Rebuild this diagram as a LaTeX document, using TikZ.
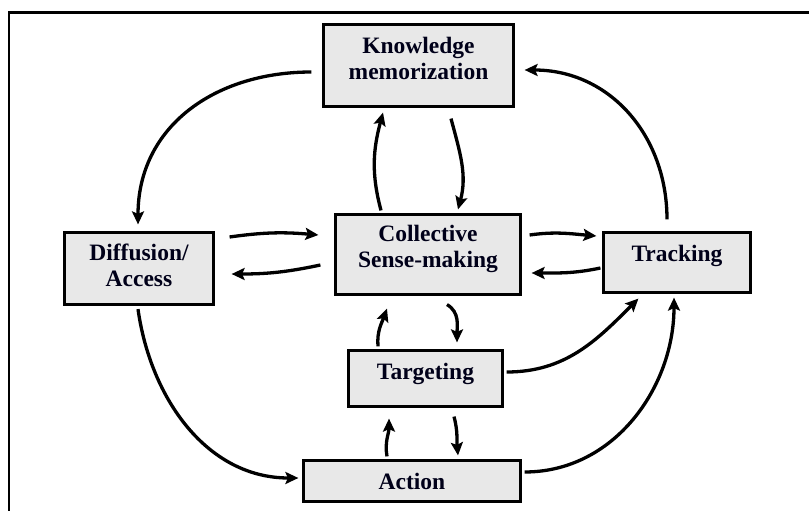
\documentclass[tikz,border=0pt]{standalone}
\usepackage{fontspec}
\setmainfont{Liberation Serif}
\usetikzlibrary{arrows.meta,calc}
\definecolor{boxgray}{HTML}{E8E8E8}
\begin{document}
\begin{tikzpicture}[x=1pt,y=1pt,
  box/.style={draw=black,line width=3.2pt,fill=boxgray,inner sep=0pt},
  lbl/.style={font=\bfseries\fontsize{23.5}{26}\selectfont,align=center,inner sep=0pt,text=black!90!blue},
  conn/.style={line width=3.3pt,-{Stealth[length=13pt,width=12pt,inset=2.5pt]}}]
\useasboundingbox (0,0) rectangle (809,-511);
\draw[line width=2.2pt] (9,-511) -- (9,-12.5) -- (809,-12.5);

\node[box,minimum width=190pt,minimum height=82pt,label={[lbl,yshift=7pt]center:Knowledge\\memorization}] (K) at (418.5,-65.5) {};
\node[box,minimum width=149pt,minimum height=72pt,label={[lbl,yshift=3pt]center:Diffusion/\\Access}] (D) at (139,-268.5) {};
\node[box,minimum width=185pt,minimum height=80pt,label={[lbl,yshift=6pt]center:Collective\\Sense-making}] (C) at (428,-254.5) {};
\node[box,minimum width=147pt,minimum height=60pt,label={[lbl,yshift=7pt]center:Tracking}] (T) at (677,-262.5) {};
\node[box,minimum width=154pt,minimum height=56pt,label={[lbl,yshift=5pt]center:Targeting}] (Tg) at (425.5,-378.5) {};
\node[box,minimum width=217pt,minimum height=41pt,label={[lbl,yshift=0pt]center:Action}] (A) at (412,-481) {};

\draw[conn] ($(K.west)+(-10.5,-6.5)$) to[out=180,in=90,looseness=1.08] ($(D.north)+(-1,6.5)$);
\draw[conn] ($(T.north)+(-10,11.5)$) to[out=90,in=0,looseness=1.05] ($(K.east)+(9.5,-4.5)$);
\draw[conn] ($(D.south)+(-1,-3)$) to[out=-82,in=180] ($(A.west)+(-3.5,3)$);
\draw[conn] ($(A.east)+(2.5,9)$) to[out=0,in=-90] ($(T.south)+(-3,-3.5)$);
\draw[conn] ($(Tg.east)+(2.5,6.5)$) to[out=0,in=-135] ($(T.south west)+(36.5,-4.5)$);
\draw[conn] ($(C.north)+(-47,2.5)$) to[out=105,in=-105] ($(K.south)+(-35.5,-4.5)$);
\draw[conn] ($(K.south)+(32.5,-10.5)$) to[out=-75,in=75] ($(C.north)+(30,3.5)$);
\draw[conn] ($(D.east)+(14.5,31.5)$) to[out=8,in=175] ($(C.west)+(-15.5,19.5)$);
\draw[conn] ($(C.west)+(-13.5,-10.5)$) to[out=192,in=0] ($(D.east)+(16.5,-5.5)$);
\draw[conn] ($(C.east)+(7.5,19.5)$) to[out=8,in=175] ($(T.west)+(-5.5,26.5)$);
\draw[conn] ($(T.west)+(-1.5,-5.5)$) to[out=192,in=0] ($(C.east)+(9.5,-18.5)$);
\draw[conn] ($(Tg.north)+(-47.5,2.5)$) to[out=95,in=-110] ($(C.south)+(-41,-12.5)$);
\draw[conn] ($(C.south)+(19,-8.5)$) to[out=-30,in=90] ($(Tg.north)+(31.5,6.5)$);
\draw[conn] ($(A.north)+(-25,2.5)$) to[out=100,in=-90] ($(Tg.south)+(-36.5,-10.5)$);
\draw[conn] ($(Tg.south)+(28.5,-8.5)$) to[out=-75,in=95] ($(A.north)+(46,3.5)$);
\end{tikzpicture}
\end{document}
